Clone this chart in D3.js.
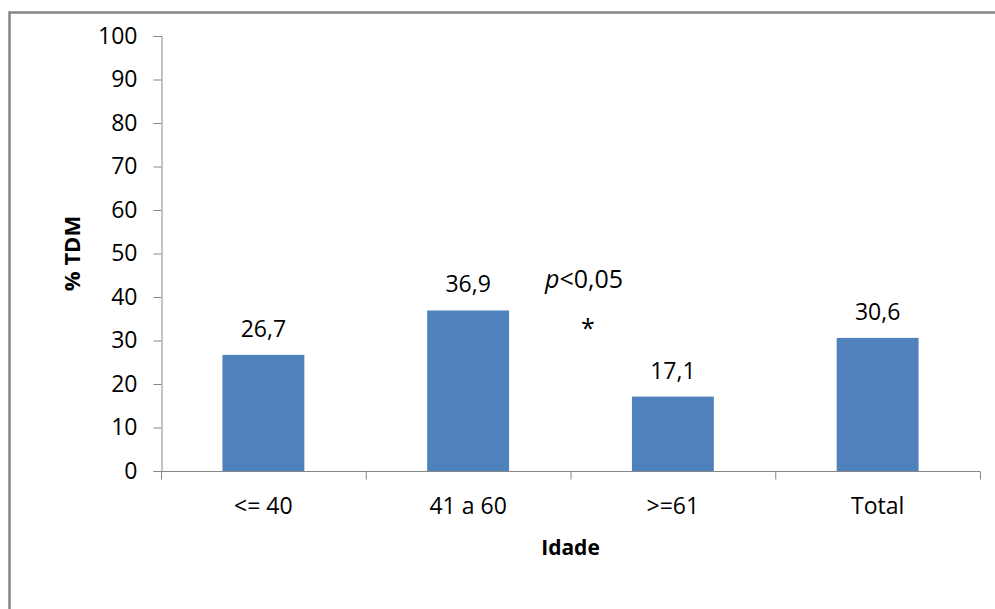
<!DOCTYPE html>
<html>
<head>
<meta charset="utf-8">
<script src="https://cdn.jsdelivr.net/npm/d3@7"></script>
<style>
  html, body { margin: 0; padding: 0; background: #fff; }
  svg { display: block; }
  text { font-family: "Open Sans", "Liberation Sans", sans-serif; fill: #000; }
</style>
</head>
<body>
<svg id="chart" width="995" height="609"></svg>
<script>
const categories = ["<= 40", "41 a 60", ">=61", "Total"];
const values = [26.7, 36.9, 17.1, 30.6];
const valueLabels = ["26,7", "36,9", "17,1", "30,6"];
const yTicks = [0, 10, 20, 30, 40, 50, 60, 70, 80, 90, 100];

const svg = d3.select("#chart");
const mLeft = 161, mRight = 980, mTop = 36, mBottom = 471;
const fs = 23;

// outer frame (cropped at right and bottom)
svg.append("rect")
  .attr("x", 9.5).attr("y", 12.5)
  .attr("width", 1000).attr("height", 700)
  .attr("fill", "none").attr("stroke", "#868686").attr("stroke-width", 2.5);

const x = d3.scaleBand().domain(categories).range([mLeft, mRight]).paddingInner(0.6).paddingOuter(0.3);
const y = d3.scaleLinear().domain([0, 100]).range([mBottom, mTop]);

// bars
svg.append("g").selectAll("rect").data(values).join("rect")
  .attr("x", (d, i) => x(categories[i]))
  .attr("y", d => y(d))
  .attr("width", x.bandwidth())
  .attr("height", d => y(0) - y(d))
  .attr("fill", "#4F81BD");

// y axis
const yAxis = svg.append("g").attr("transform", `translate(${mLeft + 0.5},0)`)
  .call(d3.axisLeft(y).tickValues(yTicks).tickSize(8).tickPadding(16).tickFormat(d3.format("d")));
yAxis.select(".domain").attr("stroke", "#868686");
yAxis.selectAll(".tick line").attr("stroke", "#868686");
yAxis.selectAll(".tick text").attr("font-size", fs).attr("font-family", "Open Sans").attr("fill", "#1a1a1a");

// x axis
const xb = d3.scaleLinear().domain([0, categories.length]).range([mLeft, mRight]);
const xAxisG = svg.append("g").attr("transform", `translate(0,${mBottom + 0.5})`);
xAxisG.append("line").attr("x1", mLeft).attr("x2", mRight).attr("stroke", "#868686");
xAxisG.selectAll("line.tk").data(d3.range(categories.length + 1)).join("line")
  .attr("class", "tk")
  .attr("x1", d => xb(d) + 0.5).attr("x2", d => xb(d) + 0.5)
  .attr("y1", 0).attr("y2", 8).attr("stroke", "#868686");
xAxisG.selectAll("text").data(categories).join("text")
  .attr("x", d => x(d) + x.bandwidth() / 2)
  .attr("y", 42)
  .attr("text-anchor", "middle")
  .attr("font-size", fs)
  .attr("fill", "#1a1a1a")
  .text(d => d);

// value labels
svg.append("g").selectAll("text").data(values).join("text")
  .attr("x", (d, i) => x(categories[i]) + x.bandwidth() / 2)
  .attr("y", d => y(d) - 18)
  .attr("text-anchor", "middle")
  .attr("font-size", fs)
  .attr("fill", "#1a1a1a")
  .text((d, i) => valueLabels[i]);

// annotation
const ann = svg.append("text").attr("x", 584).attr("y", 288).attr("text-anchor", "middle").attr("font-size", 25);
ann.append("tspan").attr("font-style", "italic").text("p");
ann.append("tspan").text("<0,05");
svg.append("text").attr("x", 588).attr("y", 337).attr("text-anchor", "middle").attr("font-size", 25).text("*");

// axis titles
svg.append("text").attr("x", (mLeft + mRight) / 2).attr("y", 555)
  .attr("text-anchor", "middle").attr("font-size", 21).attr("font-weight", "bold").text("Idade");
svg.append("text").attr("transform", `translate(80,${(mTop + mBottom) / 2}) rotate(-90)`)
  .attr("text-anchor", "middle").attr("font-size", 22).attr("font-weight", "bold").text("% TDM");
</script>
</body>
</html>
